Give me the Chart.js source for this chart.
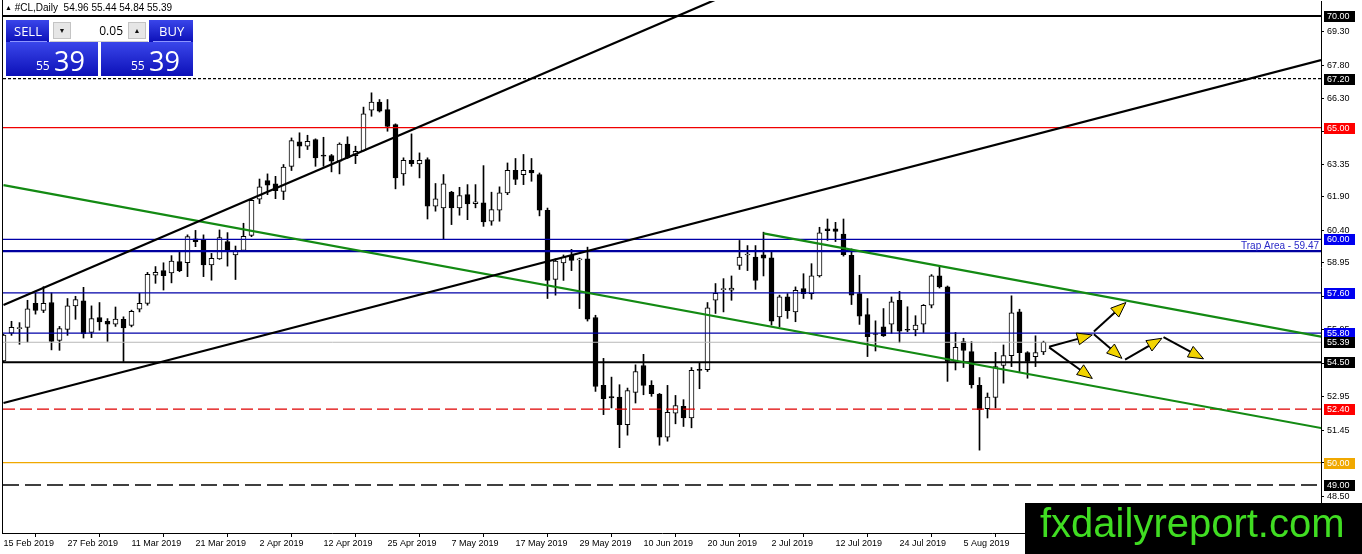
<!DOCTYPE html>
<html>
<head>
<meta charset="utf-8">
<script src="https://cdn.jsdelivr.net/npm/chart.js@4.4.1/dist/chart.umd.min.js"></script>
<style>
  html, body { margin: 0; padding: 0; background: #fff; }
  #wrap { position: relative; width: 1362px; height: 554px; overflow: hidden; }
  #chart { position: absolute; left: 0; top: 0; }
  #hdr { position: absolute; left: 5px; top: 2px; font: 10px "Liberation Sans", Arial, sans-serif; color: #000; white-space: pre; line-height: 12px; }
  #hdr .tri { font-size: 7px; vertical-align: 1px; }
  .blue { position: absolute; background: linear-gradient(#3a46ea, #0c10b8); color: #fff; font-family: "Open Sans", "Noto Sans", sans-serif; }
  .blue .t { position: absolute; font-size: 13px; line-height: 22px; top: 0; }
  #sellBtn { left: 6px; top: 20px; width: 43px; height: 22px; }
  #buyBtn  { left: 149px; top: 20px; width: 44px; height: 22px; }
  .sep { position: absolute; left: 4px; right: 2px; bottom: 0; height: 1px; background: #8c94ff; }
  #spin { position: absolute; left: 50px; top: 20px; width: 98px; height: 21px; background: #fff; border-bottom: 1px solid #cfcfcf; font-family: "Open Sans", sans-serif; }
  #spin .b { position: absolute; top: 2px; width: 18px; height: 17px; background: #e6e6e6; border: 1px solid #c4c4c4; box-sizing: border-box; font-size: 7px; line-height: 15px; text-align: center; color: #111; }
  #spin .v { position: absolute; right: 25px; top: 0; font-size: 12px; line-height: 21px; color: #000; }
  #sellPx { left: 6px; top: 42px; width: 92px; height: 34px; }
  #buyPx  { left: 101px; top: 42px; width: 92px; height: 34px; }
  .blue .s { position: absolute; left: 30px; top: 18px; font-size: 12px; line-height: 1; }
  .blue .L { position: absolute; left: 48px; top: 5px; font-size: 27px; line-height: 1; }
  #mark { position: absolute; left: 1025px; top: 503px; width: 337px; height: 51px; background: #000; }
  #mark span { position: absolute; left: 15px; top: 0; font: 40px "Liberation Sans", Arial, sans-serif; line-height: 40px; color: #40dd22; white-space: nowrap; }
</style>
</head>
<body>
<div id="wrap">
  <canvas id="chart" width="1362" height="554"></canvas>
  <div id="hdr"><span class="tri">&#9650;</span> #CL,Daily  54.96 55.44 54.84 55.39</div>
  <div class="blue" id="sellBtn"><span class="t" style="left:8px">SELL</span><div class="sep"></div></div>
  <div id="spin"><div class="b" style="left:3px">&#9660;</div><span class="v">0.05</span><div class="b" style="right:2px">&#9650;</div></div>
  <div class="blue" id="buyBtn"><span class="t" style="left:10px">BUY</span><div class="sep"></div></div>
  <div class="blue" id="sellPx"><span class="s">55</span><span class="L">39</span></div>
  <div class="blue" id="buyPx"><span class="s">55</span><span class="L">39</span></div>
  <div id="mark"><span>fxdailyreport.com</span></div>
</div>
<script>
// ---- data: #CL daily candles, 15 Feb 2019 .. 19 Aug 2019 ----
const ohlcOpen = [
  54.55, 55.80, 56.00, 56.06, 57.13, 56.82, 57.17, 55.47, 55.97, 57.02,
  57.25, 55.83, 56.50, 56.33, 56.20, 56.42, 56.15, 56.87, 57.13, 58.40,
  58.60, 58.50, 59.00, 58.95, 60.02, 59.95, 58.85, 59.12, 59.90, 59.30,
  59.50, 60.18, 61.80, 62.63, 62.48, 62.15, 63.27, 64.36, 64.17, 64.47,
  63.77, 63.75, 63.50, 64.27, 63.75, 63.97, 65.78, 66.15, 65.81, 65.14,
  62.93, 63.54, 63.38, 63.57, 61.48, 61.41, 62.12, 61.41, 62.00, 61.60,
  61.63, 60.81, 61.30, 62.08, 63.09, 62.90, 63.09, 62.90, 61.30, 58.21,
  58.94, 59.28, 59.08, 59.13, 56.50, 53.46, 52.96, 52.94, 51.70, 53.15,
  54.35, 53.46, 53.07, 51.14, 52.22, 52.52, 52.00, 54.18, 54.16, 57.27,
  57.75, 57.72, 58.83, 59.30, 59.20, 59.31, 59.17, 56.53, 57.42, 56.75,
  57.79, 57.57, 58.36, 60.47, 60.47, 60.24, 59.28, 57.57, 56.63, 55.75,
  56.08, 56.20, 57.27, 55.95, 55.94, 56.20, 57.05, 58.36, 57.87, 54.53,
  55.42, 54.97, 53.46, 52.42, 52.92, 54.35, 54.79, 56.75, 54.93, 54.75,
  54.96
];
const ohlcHigh = [
  55.75, 56.33, 56.27, 57.27, 57.58, 57.88, 57.60, 56.10, 57.35, 57.45,
  57.85, 57.02, 57.17, 56.45, 56.97, 56.53, 56.83, 57.58, 58.52, 58.78,
  58.95, 59.27, 59.50, 60.20, 60.40, 60.20, 59.37, 60.42, 60.30, 59.70,
  60.72, 61.80, 62.70, 62.93, 62.82, 63.35, 64.54, 64.77, 64.66, 64.50,
  64.57, 63.80, 64.32, 64.59, 64.17, 65.92, 66.56, 66.26, 66.26, 65.17,
  63.65, 64.72, 63.87, 63.65, 62.50, 62.90, 62.15, 62.33, 62.45, 62.45,
  63.30, 62.11, 62.35, 63.42, 63.62, 63.80, 63.62, 62.97, 61.40, 59.13,
  59.30, 59.55, 59.16, 59.65, 56.60, 54.67, 53.83, 53.49, 53.34, 54.38,
  54.85, 53.67, 53.10, 53.46, 53.01, 52.82, 54.26, 54.48, 57.17, 58.02,
  58.24, 58.36, 59.95, 59.72, 59.72, 60.32, 59.50, 57.50, 57.57, 57.87,
  58.46, 58.91, 60.54, 60.91, 60.76, 60.91, 59.57, 58.39, 57.35, 56.35,
  56.90, 57.42, 57.67, 56.98, 56.58, 57.08, 58.42, 58.83, 57.91, 55.83,
  55.57, 55.42, 53.81, 53.12, 54.94, 55.27, 57.47, 56.87, 54.97, 55.68,
  55.44
];
const ohlcLow = [
  54.50, 55.70, 55.30, 55.40, 56.65, 56.72, 55.05, 55.03, 55.70, 56.42,
  55.58, 55.60, 55.93, 55.43, 56.10, 54.53, 56.08, 56.75, 57.05, 58.03,
  57.73, 58.05, 58.55, 58.33, 59.67, 58.33, 58.17, 59.10, 58.80, 58.20,
  59.45, 60.12, 61.60, 62.00, 61.82, 61.78, 63.08, 63.65, 64.02, 63.27,
  63.27, 63.02, 62.93, 63.62, 63.39, 63.95, 65.51, 65.70, 64.84, 62.26,
  62.42, 63.27, 62.75, 60.91, 61.26, 59.99, 60.66, 61.08, 60.88, 61.41,
  60.58, 60.63, 60.81, 62.00, 62.45, 62.45, 62.60, 61.05, 57.35, 57.50,
  58.16, 58.60, 56.90, 56.34, 53.19, 52.15, 52.45, 50.67, 51.23, 52.67,
  53.04, 52.97, 50.78, 50.96, 51.74, 51.62, 51.56, 53.31, 54.08, 56.68,
  56.75, 57.27, 58.65, 58.60, 57.76, 58.36, 56.16, 56.09, 56.46, 56.31,
  57.35, 57.32, 58.31, 59.95, 59.90, 59.25, 57.08, 56.19, 54.75, 55.00,
  55.65, 55.79, 55.37, 55.86, 55.68, 55.83, 56.93, 57.82, 53.64, 54.15,
  54.26, 53.34, 50.56, 52.00, 52.45, 53.56, 54.30, 54.08, 53.78, 54.30,
  54.84
];
const ohlcClose = [
  55.71, 56.06, 56.05, 56.89, 56.82, 57.13, 55.43, 56.00, 57.02, 57.30,
  55.78, 56.45, 56.30, 56.20, 56.43, 56.03, 56.78, 57.13, 58.43, 58.52,
  58.37, 59.03, 58.60, 60.12, 59.90, 58.85, 59.15, 60.08, 59.45, 59.48,
  60.13, 61.75, 62.35, 62.42, 62.18, 63.24, 64.42, 64.17, 64.39, 63.65,
  63.72, 63.50, 64.27, 63.65, 63.94, 65.62, 66.15, 65.74, 65.06, 62.75,
  63.54, 63.39, 63.54, 61.48, 61.81, 62.48, 61.41, 61.96, 61.58, 61.68,
  60.78, 61.33, 62.08, 63.09, 62.68, 63.09, 62.97, 61.30, 58.16, 59.03,
  59.20, 59.06, 59.10, 56.43, 53.41, 52.86, 52.90, 51.70, 53.23, 54.08,
  53.46, 53.09, 51.14, 52.25, 52.56, 52.00, 54.13, 54.13, 56.93, 57.58,
  57.77, 57.82, 59.20, 59.31, 58.16, 59.16, 56.34, 57.42, 56.80, 57.72,
  57.57, 58.36, 60.29, 60.39, 60.35, 59.31, 57.50, 56.56, 55.64, 55.74,
  55.68, 57.20, 55.89, 55.93, 56.16, 57.05, 58.36, 57.87, 54.53, 55.16,
  55.02, 53.49, 52.37, 52.94, 54.30, 54.79, 56.71, 54.93, 54.53, 54.93,
  55.39
];

const dateTickBars   = [0, 8, 16, 24, 32, 40, 48, 56, 64, 72, 80, 88, 96, 104, 112, 120];
const dateTickLabels = ['15 Feb 2019', '27 Feb 2019', '11 Mar 2019', '21 Mar 2019', '2 Apr 2019', '12 Apr 2019',
  '25 Apr 2019', '7 May 2019', '17 May 2019', '29 May 2019', '10 Jun 2019', '20 Jun 2019',
  '2 Jul 2019', '12 Jul 2019', '24 Jul 2019', '5 Aug 2019'];
const priceTicks = [69.30, 67.80, 66.30, 64.85, 63.35, 61.90, 60.40, 58.95, 57.45, 55.95, 54.45, 52.95, 51.45, 50.00, 48.50, 47.05];

// horizontal levels
const levelPrices = [70.00, 67.20, 65.00, 60.00, 59.47, 57.60, 55.80, 55.39, 54.50, 52.40, 50.00, 49.00];
const trapPrice = 59.47;

// trend lines (bar index, price)
const trendFromBar   = [0, 0, 0, 95];
const trendFromPrice = [57.06, 52.67, 62.43, 60.27];
const trendToBar     = [92, 164.7, 164.7, 164.7];
const trendToPrice   = [71.19, 68.03, 51.55, 55.64];

// scenario arrows (bar index, price)
const arrowFromBar   = [130.7, 136.3, 136.3, 140.2, 145.0, 130.7];
const arrowFromPrice = [55.19, 55.87, 55.75, 54.61, 55.62, 55.16];
const arrowToBar     = [136.1, 140.3, 139.8, 144.8, 150.0, 136.1];
const arrowToPrice   = [55.72, 57.17, 54.67, 55.57, 54.65, 53.77];

// ---- styles ----
const LEVEL_STYLE = [
  { color: '#000000', width: 2,   dash: [],      tag: '#000000' },
  { color: '#000000', width: 1.2, dash: [3, 2],  tag: '#000000' },
  { color: '#f00000', width: 1.2, dash: [],      tag: '#ff0000' },
  { color: '#0000a8', width: 1.2, dash: [],      tag: '#0000f0' },
  { color: '#0000a0', width: 2.2, dash: [],      tag: null },
  { color: '#0000a8', width: 1.2, dash: [],      tag: '#0000f0' },
  { color: '#0000a8', width: 1.2, dash: [],      tag: '#0000f0' },
  { color: '#b8b8b8', width: 1,   dash: [],      tag: '#000000' },
  { color: '#000000', width: 2,   dash: [],      tag: '#000000' },
  { color: '#e00000', width: 1.3, dash: [12, 5], tag: '#ff0000' },
  { color: '#f0a800', width: 1.2, dash: [],      tag: '#f0a800' },
  { color: '#000000', width: 1.3, dash: [16, 6], tag: '#000000' },
];
const TREND_COLORS = ['#000000', '#000000', '#138a13', '#138a13'];
const X_MIN = -0.0625, X_MAX = 164.6875;
const AXIS_FONT = { family: '"Liberation Sans", Arial, sans-serif', size: 9 };

Chart.defaults.font.family = '"Liberation Sans", Arial, sans-serif';

const wickData  = ohlcOpen.map((o, i) => ({ x: i, y: [ohlcLow[i], ohlcHigh[i]] }));
const bodyData  = ohlcOpen.map((o, i) => ({ x: i, y: [o, ohlcClose[i]] }));
const bodyFill  = ohlcOpen.map((o, i) => ohlcClose[i] >= o ? '#ffffff' : '#000000');

const levelSets = levelPrices.map((v, i) => ({
  type: 'line',
  data: [{ x: X_MIN, y: v }, { x: X_MAX, y: v }],
  borderColor: LEVEL_STYLE[i].color,
  borderWidth: LEVEL_STYLE[i].width,
  borderDash: LEVEL_STYLE[i].dash,
  pointRadius: 0,
  order: 1,
}));

const trendSets = trendFromBar.map((b, i) => ({
  type: 'line',
  data: [{ x: b, y: trendFromPrice[i] }, { x: trendToBar[i], y: trendToPrice[i] }],
  borderColor: TREND_COLORS[i],
  borderWidth: 2.2,
  pointRadius: 0,
  order: 0,
}));

const arrowPlugin = {
  id: 'arrows',
  afterDatasetsDraw(chart) {
    const { ctx, scales: { x, y } } = chart;
    ctx.save();
    for (let i = 0; i < arrowFromBar.length; i++) {
      const x0 = x.getPixelForValue(arrowFromBar[i]), y0 = y.getPixelForValue(arrowFromPrice[i]);
      const x1 = x.getPixelForValue(arrowToBar[i]),   y1 = y.getPixelForValue(arrowToPrice[i]);
      const a = Math.atan2(y1 - y0, x1 - x0);
      const len = 15, hw = 6;
      const bx = x1 - len * Math.cos(a), by = y1 - len * Math.sin(a);
      ctx.strokeStyle = '#000';
      ctx.lineWidth = 2;
      ctx.beginPath(); ctx.moveTo(x0, y0); ctx.lineTo(bx, by); ctx.stroke();
      ctx.beginPath();
      ctx.moveTo(x1, y1);
      ctx.lineTo(bx + hw * Math.sin(a), by - hw * Math.cos(a));
      ctx.lineTo(bx - hw * Math.sin(a), by + hw * Math.cos(a));
      ctx.closePath();
      ctx.fillStyle = '#f2d400';
      ctx.fill();
      ctx.lineWidth = 1;
      ctx.stroke();
    }
    ctx.restore();
  }
};

const tagPlugin = {
  id: 'tags',
  afterDraw(chart) {
    const { ctx, chartArea, scales: { y } } = chart;
    ctx.save();
    ctx.font = '9px "Liberation Sans", Arial, sans-serif';
    ctx.textBaseline = 'middle';
    levelPrices.forEach((v, i) => {
      const tag = LEVEL_STYLE[i].tag;
      if (!tag) return;
      const py = Math.round(y.getPixelForValue(v));
      ctx.fillStyle = tag;
      ctx.fillRect(chartArea.right + 3, py - 5, 31, 11);
      ctx.fillStyle = '#fff';
      ctx.fillText(v.toFixed(2), chartArea.right + 6, py + 1);
    });
    const ty = y.getPixelForValue(trapPrice);
    ctx.font = '10px "Liberation Sans", Arial, sans-serif';
    ctx.textAlign = 'right';
    ctx.textBaseline = 'alphabetic';
    ctx.fillStyle = '#2a2ac8';
    ctx.fillText('Trap Area - ' + trapPrice.toFixed(2), chartArea.right - 2, ty - 2);
    ctx.fillStyle = '#000';
    ctx.fillRect(chartArea.left - 1, 0, 1, chartArea.bottom + 1);
    ctx.restore();
  }
};

new Chart(document.getElementById('chart'), {
  data: {
    datasets: [
      {
        type: 'bar', data: wickData, backgroundColor: '#000', barThickness: 1,
        grouped: false, order: 3, clip: 0,
      },
      {
        type: 'bar', data: bodyData, backgroundColor: bodyFill, borderColor: '#000', borderWidth: 1,
        borderSkipped: false, barThickness: 5, minBarLength: 1, grouped: false, order: 2, clip: 0,
      },
      ...levelSets,
      ...trendSets,
    ],
  },
  options: {
    responsive: false,
    animation: false,
    events: [],
    layout: { padding: { left: 3, top: 1, right: 0, bottom: 0 } },
    plugins: { legend: { display: false }, tooltip: { enabled: false } },
    scales: {
      x: {
        type: 'linear', min: X_MIN, max: X_MAX, offset: false,
        afterBuildTicks: s => { s.ticks = dateTickBars.map(v => ({ value: v })); },
        afterFit: s => { s.height = 21; s.paddingLeft = 0; s.paddingRight = 0; },
        ticks: {
          autoSkip: false, maxRotation: 0, minRotation: 0, align: 'start', padding: 1,
          color: '#000', font: AXIS_FONT,
          callback: v => { const k = dateTickBars.indexOf(v); return k >= 0 ? dateTickLabels[k] : ''; },
        },
        grid: { drawOnChartArea: false, drawTicks: true, tickLength: 4, color: '#000' },
        border: { display: true, color: '#000', width: 1 },
      },
      y: {
        type: 'linear', position: 'right', min: 46.85, max: 70.6716,
        afterBuildTicks: s => { s.ticks = priceTicks.map(v => ({ value: v })); },
        afterFit: s => { s.width = 41; s.paddingTop = 0; s.paddingBottom = 0; },
        ticks: { color: '#000', font: AXIS_FONT, padding: 3, callback: v => Number(v).toFixed(2) },
        grid: { drawOnChartArea: false, drawTicks: true, tickLength: 3, color: '#000' },
        border: { display: true, color: '#000', width: 1 },
      },
    },
  },
  plugins: [arrowPlugin, tagPlugin],
});
</script>
</body>
</html>
